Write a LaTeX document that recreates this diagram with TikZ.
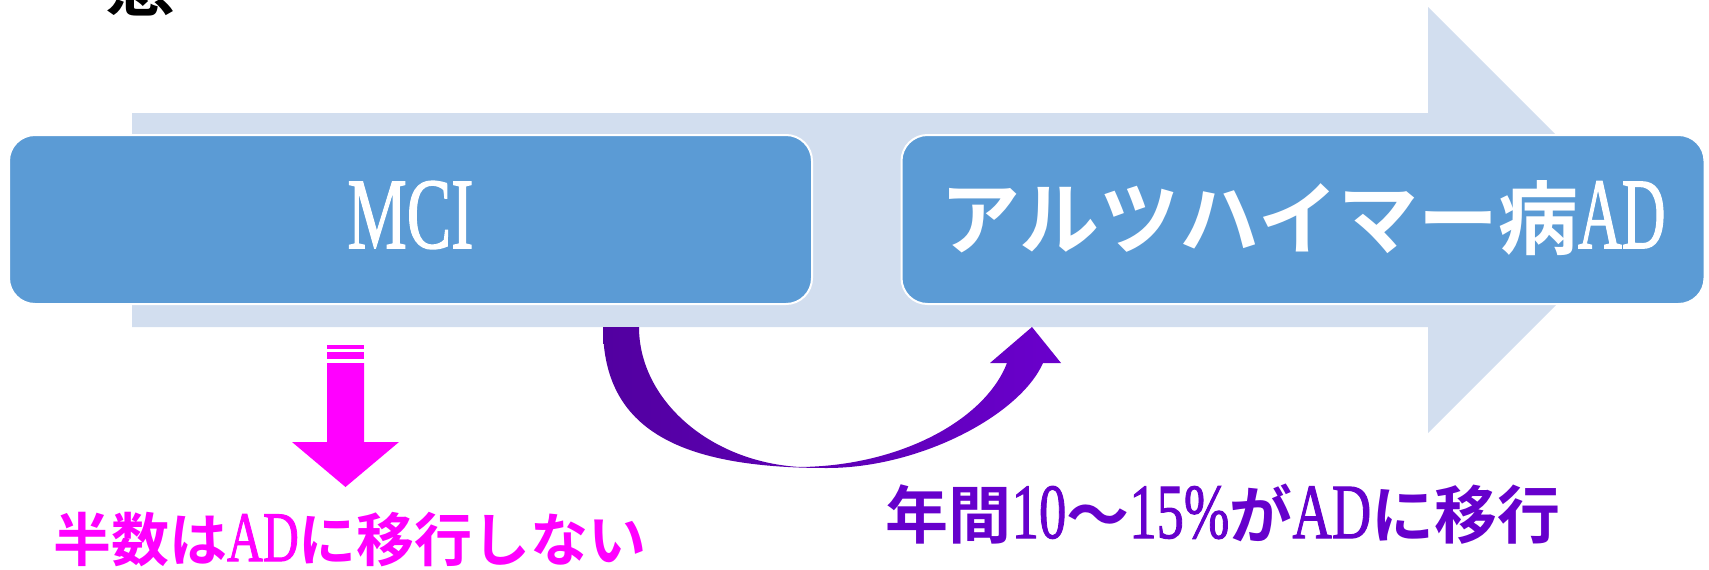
\documentclass[tikz,border=0pt]{standalone}
\usepackage{fontspec}
\usepackage{graphicx}
\newfontfamily\jpb{Noto Sans CJK JP Bold}
\newfontfamily\latf{Liberation Serif}
\newfontfamily\latbf{Liberation Serif}[FakeBold=1.5]
\definecolor{boxblue}{HTML}{5B9BD5}
\definecolor{lightarr}{HTML}{D2DEEF}
\definecolor{purpA}{HTML}{5200A0}
\definecolor{purpB}{HTML}{6A00CC}
\definecolor{purptext}{HTML}{6600CC}
\definecolor{pinktext}{HTML}{FF00FF}
\newcommand\La[3]{{\fontsize{#1}{#1}\selectfont\latf\scalebox{#2}[1]{#3}}}
\newcommand\Lb[3]{{\fontsize{#1}{#1}\selectfont\latbf\scalebox{#2}[1]{#3}}}
\newcommand\Jp[2]{{\fontsize{#1}{#1}\selectfont\jpb #2}}
\tikzset{
  stagebox/.style={draw=white, line width=2pt, fill=boxblue, rounded corners=26pt,
    minimum width=803pt, minimum height=169pt, inner sep=0pt},
  label text/.style={inner sep=0pt, anchor=base},
}
\begin{document}
\begin{tikzpicture}[x=1pt,y=-1pt]
\useasboundingbox (0,0) rectangle (1709,570);
% partially visible heading
\node[label text, text=black] (head) at (140,10) {\Jp{70}{態}};
% big background arrow
\fill[lightarr] (132,113) -- (1428,113) -- (1428,7) -- (1641,220) -- (1428,433)
  -- (1428,327) -- (132,327) -- cycle;
% boxes
\node[stagebox] (mci) at (410.5,219.5) {};
\node[stagebox] (ad) at (1303,219.5) {};
\node[label text, text=white] (mcit) at (410.5,248) {\Lb{101}{0.66}{MCI}};
\node[label text, text=white] (adt) at (1303,248) {\Jp{80}{アルツハイマー病}\Lb{101}{0.6}{AD}};
% pink down arrow
\fill[pinktext] (327,345) rectangle (364,349);
\fill[pinktext] (327,352) rectangle (364,359);
\fill[pinktext] (327,363) -- (364,363) -- (364,442) -- (399,442) -- (345.5,487)
  -- (292,442) -- (327,442) -- cycle;
% purple curved arrow
\shade[left color=purpA, right color=purpB]
  (603,327) .. controls (603,430) and (680,468) .. (827,468)
  .. controls (920,468) and (1020,415) .. (1043,363)
  -- (1061,363) -- (1032,327) -- (990,363) -- (1007,363)
  .. controls (985,420) and (900,466) .. (800,467)
  .. controls (710,462) and (639,400) .. (639,327) -- cycle;
% bottom texts
\node[label text, text=pinktext] (half) at (350,561)
  {\Jp{58}{半数は}\Lb{71}{0.7}{AD}\Jp{58}{に移行しない}};
\node[label text, text=purptext] (rate) at (1223,538)
  {\Jp{63}{年間}\Lb{78}{0.7}{10}\Jp{63}{～}\Lb{78}{0.7}{15\%}\Jp{63}{が}\Lb{78}{0.7}{AD}\Jp{63}{に移行}};
\end{tikzpicture}
\end{document}
